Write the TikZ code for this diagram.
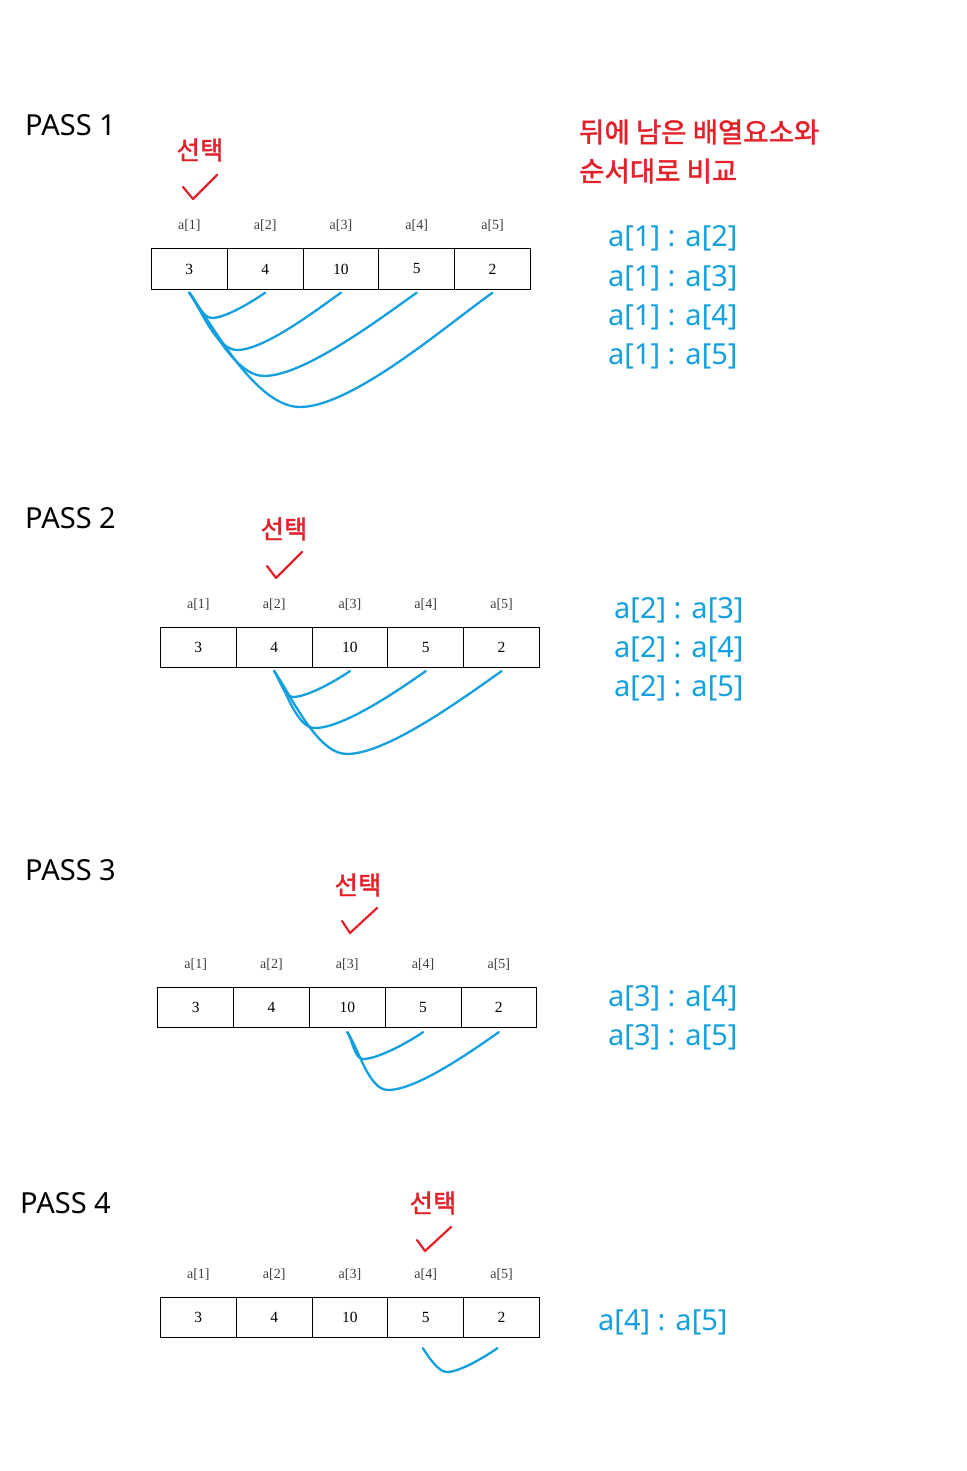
\documentclass[tikz,border=0pt]{standalone}
\usepackage{fontspec}
\setmainfont{Liberation Serif}
\newfontfamily\latin{Noto Sans}
\newfontfamily\kr[FakeBold=1.6]{Noto Sans CJK KR}
\definecolor{selred}{RGB}{228,32,40}
\definecolor{cmpblue}{RGB}{20,160,222}
\definecolor{idxgray}{RGB}{60,60,60}
\newcommand\drawarr[3]{%
  \foreach \v [count=\i] in {3,4,10,5,2} {
    \node[cell, anchor=north west] (#1c\i) at ({#2+(\i-1)*75.8},#3) {\v};
    \node[idx] (#1l\i) at ([yshift=22.5pt]#1c\i.north) {a[\i]};
  }}
\begin{document}
\begin{tikzpicture}[x=1pt,y=-1pt,
  cell/.style={draw=black, line width=0.9pt, minimum width=75.8pt, minimum height=40.5pt, inner sep=0pt, font=\fontsize{15.5}{15.5}\selectfont},
  idx/.style={inner sep=0pt, text=idxgray, font=\fontsize{14}{14}\selectfont},
  pass/.style={anchor=base west, inner sep=0pt, font=\latin\fontsize{29}{29}\selectfont},
  sel/.style={inner sep=0pt, text=selred, font=\kr\fontsize{25.5}{25.5}\selectfont},
  cmp/.style={anchor=base west, inner sep=0pt, text=cmpblue, font=\latin\fontsize{29}{29}\selectfont},
  head/.style={anchor=west, inner sep=0pt, text=selred, font=\kr\fontsize{27.5}{27.5}\selectfont},
  tick/.style={draw=selred, line width=2.2pt, line cap=round, line join=round},
  arcline/.style={draw=cmpblue, line width=2.3pt, line cap=round},
  down/.style={out=-55,in=180,looseness=0.7},
  up/.style={out=0,in=215,looseness=0.6}]
\useasboundingbox[fill=white] (0,0) rectangle (966,1471);

% ---------- PASS 1 ----------
\node[pass] (pass1) at (25,136) {PASS 1};
\node[sel] (sel1) at (200,150) {선택};
\draw[tick] (183,187) -- (193,199) -- (217,175);
\drawarr{p}{151}{248.3}
\node[head] (head1) at (579,132) {뒤에 남은 배열요소와};
\node[head] (head2) at (579,171) {순서대로 비교};
\node[cmp] (c11) at (608,247) {a[1] : a[2]};
\node[cmp] (c12) at (608,286) {a[1] : a[3]};
\node[cmp] (c13) at (608,325) {a[1] : a[4]};
\node[cmp] (c14) at (608,364) {a[1] : a[5]};
\coordinate (pm1) at (212,318);
\coordinate (pm2) at (237,350);
\coordinate (pm3) at (264,376);
\coordinate (pm4) at (300,407);
\draw[arcline] ([yshift=-3pt]pc1.south) to[down] (pm1) to[up] ([yshift=-3pt]pc2.south);
\draw[arcline] ([yshift=-3pt]pc1.south) to[down] (pm2) to[up] ([yshift=-3pt]pc3.south);
\draw[arcline] ([yshift=-3pt]pc1.south) to[down] (pm3) to[up] ([yshift=-3pt]pc4.south);
\draw[arcline] ([yshift=-3pt]pc1.south) to[down] (pm4) to[up] ([yshift=-3pt]pc5.south);

% ---------- PASS 2 ----------
\node[pass] (pass2) at (25,528) {PASS 2};
\node[sel] (sel2) at (284,529) {선택};
\draw[tick] (267,566) -- (276,578) -- (302,552);
\drawarr{q}{160}{626.7}
\node[cmp] (c21) at (614,618) {a[2] : a[3]};
\node[cmp] (c22) at (614,657) {a[2] : a[4]};
\node[cmp] (c23) at (614,696) {a[2] : a[5]};
\coordinate (qm1) at (293,697);
\coordinate (qm2) at (315,728);
\coordinate (qm3) at (347,754);
\draw[arcline] ([yshift=-3pt]qc2.south) to[down] (qm1) to[up] ([yshift=-3pt]qc3.south);
\draw[arcline] ([yshift=-3pt]qc2.south) to[down] (qm2) to[up] ([yshift=-3pt]qc4.south);
\draw[arcline] ([yshift=-3pt]qc2.south) to[down] (qm3) to[up] ([yshift=-3pt]qc5.south);

% ---------- PASS 3 ----------
\node[pass] (pass3) at (25,880) {PASS 3};
\node[sel] (sel3) at (358,885) {선택};
\draw[tick] (342,921) -- (350,933) -- (377,908);
\drawarr{r}{157.3}{986.7}
\node[cmp] (c31) at (608,1006) {a[3] : a[4]};
\node[cmp] (c32) at (608,1045) {a[3] : a[5]};
\coordinate (rm1) at (363,1059);
\coordinate (rm2) at (388,1090);
\draw[arcline] ([yshift=-4pt]rc3.south) to[down] (rm1) to[up] ([yshift=-4pt]rc4.south);
\draw[arcline] ([yshift=-4pt]rc3.south) to[down] (rm2) to[up] ([yshift=-4pt]rc5.south);

% ---------- PASS 4 ----------
\node[pass] (pass4) at (20,1213) {PASS 4};
\node[sel] (sel4) at (433,1203) {선택};
\draw[tick] (417,1240) -- (425,1251) -- (451,1227);
\drawarr{s}{160}{1296.7}
\node[cmp] (c41) at (598,1330) {a[4] : a[5]};
\coordinate (sm1) at (447,1372);
\draw[arcline] ([xshift=-3pt,yshift=-10pt]sc4.south) to[down] (sm1) to[up] ([xshift=-4pt,yshift=-10pt]sc5.south);
\end{tikzpicture}
\end{document}
